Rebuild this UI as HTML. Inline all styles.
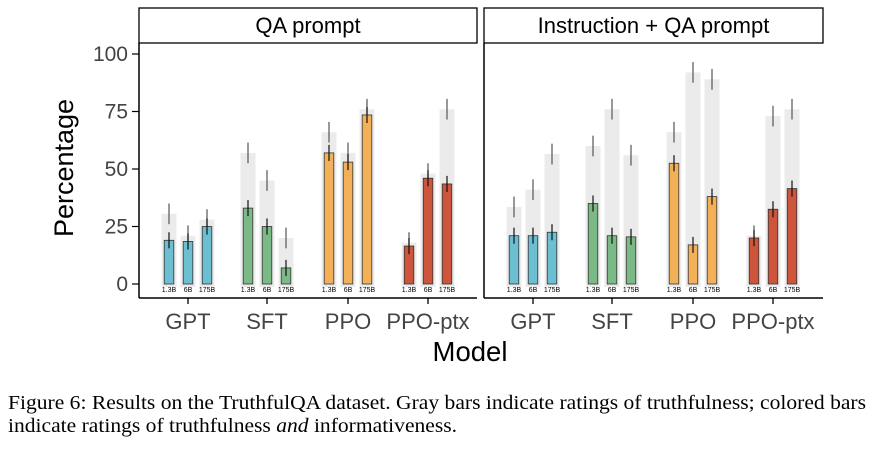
<!DOCTYPE html>
<html><head><meta charset="utf-8"><style>
body{margin:0;background:#fff;width:876px;height:449px;overflow:hidden}
svg text{font-family:"Liberation Sans",sans-serif}
.cap{position:absolute;left:8px;font-family:"Liberation Serif",serif;font-size:19.5px;color:#000;white-space:nowrap;transform-origin:0 0}
</style></head><body>
<svg id="chart" width="876" height="380" style="position:absolute;left:0;top:0"></svg>
<div class="cap" id="c1" style="top:393px">Figure 6: Results on the TruthfulQA dataset. Gray bars indicate ratings of truthfulness; colored bars</div>
<div class="cap" id="c2" style="top:416px">indicate ratings of truthfulness <i>and</i> informativeness.</div>
<script>
const groups=["GPT","SFT","PPO","PPO-ptx"];
const sizes=["1.3B","6B","175B"];
const panels=["QA prompt","Instruction + QA prompt"];
const yTicks=[0,25,50,75,100];
const grayQA=[[30.5,21,28],[57,45,20],[66,57,76],[18,48,76]];
const colorQA=[[19,18.5,25],[33,25,7],[57,53,73.5],[16.5,46,43.5]];
const grayIQA=[[33.5,41,56.5],[60,76,56],[66,92,89],[21,73,76]];
const colorIQA=[[21,21,22.5],[35,21,20.5],[52.5,17,38],[20,32.5,41.5]];
const grayData=[grayQA,grayIQA], colorData=[colorQA,colorIQA];
const colors=["#6BBFD0","#7BB987","#F2B158","#CC553C"];
const svg=document.getElementById('chart');
const NS="http://www.w3.org/2000/svg";
function mk(t,a,p){const e=document.createElementNS(NS,t);for(const k in a)e.setAttribute(k,a[k]);(p||svg).appendChild(e);return e;}
const y=v=>284-v*2.3;
const panelX=[139,484], panelW=[338,339];
const groupOff=[49,128,209,289];
const barOff=[-19,0,19];
yTicks.forEach(t=>{
 const l=mk('line',{x1:132,x2:139,y1:y(t),y2:y(t),stroke:'#000','stroke-width':1.2});
 
 const tx=mk('text',{x:128,y:y(t)+7,'text-anchor':'end','font-size':21,fill:'#444'});tx.textContent=t;
 
});
const yt=mk('text',{x:0,y:0,'font-size':27,'text-anchor':'middle',transform:'translate(73,168) rotate(-90)'});yt.textContent='Percentage';

const xt=mk('text',{x:470,y:361,'font-size':27.5,'text-anchor':'middle'});xt.textContent='Model';

panels.forEach((p,pi)=>{
 const x0=panelX[pi],w=panelW[pi];
 const g=mk('g',{});
 const strip=mk('rect',{x:x0,y:8,width:w,height:35,fill:'#fff',stroke:'#000','stroke-width':1.3},g);
 
 const st=mk('text',{x:x0+w/2,y:33,'font-size':22,'text-anchor':'middle'},g);st.textContent=p;
 
 mk('line',{x1:x0,x2:x0,y1:43,y2:298,stroke:'#000','stroke-width':1.5},g);
 mk('line',{x1:x0,x2:x0+w,y1:298,y2:298,stroke:'#000','stroke-width':1.5},g);
 groups.forEach((gn,gi)=>{
  const cx=x0+groupOff[gi];
  mk('line',{x1:cx,x2:cx,y1:298,y2:304,stroke:'#000','stroke-width':1.3},g);
  const gl=mk('text',{x:cx,y:329,'font-size':22,'text-anchor':'middle',fill:'#444'},g);gl.textContent=gn;
  
  sizes.forEach((s,si)=>{
   const bx=cx+barOff[si];
   const gv=grayData[pi][gi][si], cv=colorData[pi][gi][si];
   const gr=mk('rect',{x:bx-7.5,y:y(gv),width:15,height:y(0)-y(gv)+3,fill:'#ebebeb'},g);
   
   mk('line',{x1:bx,x2:bx,y1:y(gv+4.5),y2:y(gv-4.5),stroke:'#555','stroke-width':1.2},g);
   const cr=mk('rect',{x:bx-4.8,y:y(cv),width:9.6,height:y(0)-y(cv),fill:colors[gi],stroke:'#333','stroke-width':0.8},g);
   
   mk('line',{x1:bx,x2:bx,y1:y(cv+3.5),y2:y(cv-3.5),stroke:'#111','stroke-width':1.2},g);
   const sl=mk('text',{x:bx,y:292,'font-size':7,'text-anchor':'middle'},g);sl.textContent=s;
   
  });
 });
});
const c1=document.getElementById('c1'),c2=document.getElementById('c2');
const sc=858/c1.getBoundingClientRect().width;
c1.style.transform='scaleX('+sc+')';c2.style.transform='scaleX('+sc+')';
</script>
</body></html>
